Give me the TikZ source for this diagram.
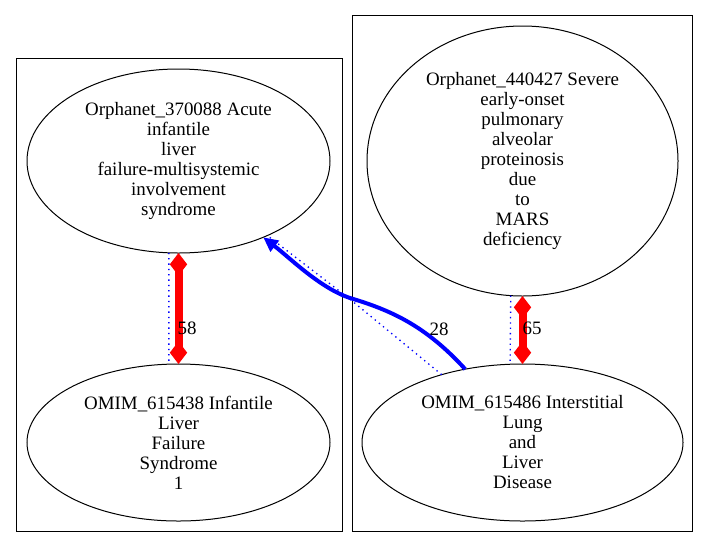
\documentclass[tikz,border=0pt]{standalone}
\usepackage{fontspec}
\setmainfont{Liberation Serif}
\usetikzlibrary{shapes.geometric,arrows.meta}
\begin{document}
\begin{tikzpicture}[x=0.75pt,y=-0.75pt,
  every node/.style={font=\fontsize{14.2}{15}\selectfont},
  ell/.style={draw,ellipse,line width=0.75pt,inner sep=0pt,outer sep=0pt,align=center},
  cluster/.style={draw,line width=0.75pt},
  redlink/.style={draw=red,line width=6pt,{Diamond[length=17pt,width=13pt]}-{Diamond[length=17pt,width=13pt]}},
  dotlink/.style={draw=blue,line width=1pt,dash pattern=on 1pt off 3pt},
  bluelink/.style={draw=blue,line width=3pt,-{Triangle[length=11pt,width=10pt]}},
  lbl/.style={inner sep=0pt}]
\useasboundingbox (0,0) rectangle (709,547);
\draw[cluster] (16,58) rectangle (342,531);
\draw[cluster] (352,15) rectangle (692,531);
\node[ell,minimum width=227.25pt,minimum height=138pt] (a1) at (178.5,161)
  {Orphanet\_370088 Acute\\infantile\\liver\\failure-multisystemic\\involvement\\syndrome};
\node[ell,minimum width=227.25pt,minimum height=117.75pt] (a2) at (178.5,442.5)
  {OMIM\_615438 Infantile\\Liver\\Failure\\Syndrome\\1};
\node[ell,minimum width=233.25pt,minimum height=202.5pt] (b1) at (522.5,161)
  {Orphanet\_440427 Severe\\early-onset\\pulmonary\\alveolar\\proteinosis\\due\\to\\MARS\\deficiency};
\node[ell,minimum width=240.75pt,minimum height=117.75pt] (b2) at (522.5,442.5)
  {OMIM\_615486 Interstitial\\Lung\\and\\Liver\\Disease};
\coordinate (bend1) at (350,298);
\coordinate (bend2) at (351,300);
% dotted companions
\draw[dotlink] (a1.264) -- (a2.97);
\draw[dotlink] (b1.265) -- (b2.99);
\draw[dotlink] (b2.140) -- (bend2) -- (a1.320);
% red links
\draw[redlink] (a1.south) -- (a2.north);
\draw[redlink] (b1.south) -- (b2.north);
% blue link
\draw[bluelink] (b2.128.6) .. controls (425,325) and (390,310) .. (bend1) .. controls (320,288) and (290,258) .. (a1.318);
% labels
\node[lbl] (l58) at (187,328) {58};
\node[lbl] (l65) at (532,328) {65};
\node[lbl] (l28) at (439,329) {28};
\end{tikzpicture}
\end{document}
